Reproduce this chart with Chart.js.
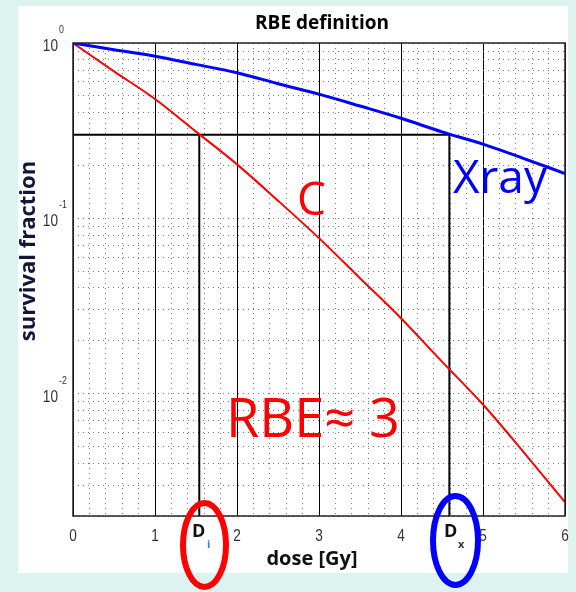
<!DOCTYPE html>
<html>
<head>
<meta charset="utf-8">
<script src="https://cdn.jsdelivr.net/npm/chart.js@4.4.1/dist/chart.umd.min.js"></script>
<style>
  html, body { margin: 0; padding: 0; background: #dcf3ef; overflow: hidden; }
  canvas { display: block; }
</style>
</head>
<body>
<canvas id="rbe" width="576" height="592"></canvas>
<script>
"use strict";

// ---------------- data ----------------
const doses = [0, 0.5, 1, 1.5, 2, 2.5, 3, 3.5, 4, 4.5, 5, 5.5, 6];
const xraySF = [1, 0.916, 0.841, 0.755, 0.676, 0.586, 0.511, 0.437, 0.372, 0.311, 0.265, 0.219, 0.18];
const carbonSF = [1, 0.689, 0.479, 0.312, 0.203, 0.126, 0.077, 0.0455, 0.0269, 0.0152, 0.00865, 0.0046, 0.0024];

const isoSF = 0.3;      // survival level used for the RBE read-off
const doseIon = 1.54;   // D_i
const doseXray = 4.59;  // D_x

const xMin = 0, xMax = 6;
const yMin = 0.002, yMax = 1;

const xTickVals = [0, 1, 2, 3, 4, 5, 6];
const xTickLabels = ["0", "1", "2", "3", "4", "5", "6"];
const xMinorGrid = [0, 0.2, 0.4, 0.6, 0.8, 1, 1.2, 1.4, 1.6, 1.8, 2, 2.2, 2.4, 2.6, 2.8, 3,
  3.2, 3.4, 3.6, 3.8, 4, 4.2, 4.4, 4.6, 4.8, 5, 5.2, 5.4, 5.6, 5.8, 6];
const yDecades = [1, 0.1, 0.01];
const yExponents = ["0", "-1", "-2"];
const yGrid = [0.002, 0.003, 0.004, 0.005, 0.006, 0.007, 0.008, 0.009,
  0.01, 0.02, 0.03, 0.04, 0.05, 0.06, 0.07, 0.08, 0.09,
  0.1, 0.2, 0.3, 0.4, 0.5, 0.6, 0.7, 0.8, 0.9, 1];

const pts = (ys) => doses.map((d, i) => ({ x: d, y: ys[i] }));

// ---------------- decorations ----------------
const narrow = "'Liberation Sans', 'DejaVu Sans', sans-serif";
const sans = "'Open Sans', 'Noto Sans', sans-serif";

// narrow text: squeeze horizontally around the anchor point
function squeezed(c, txt, x, y, align, size) {
  c.save();
  c.translate(x, y);
  c.scale(0.8, 1);
  c.textAlign = align;
  c.font = size + "px " + narrow;
  c.fillText(txt, 0, 0);
  c.restore();
}

const decor = {
  id: "decor",
  beforeDraw(chart) {
    const c = chart.ctx;
    c.save();
    c.fillStyle = "#fff";
    c.fillRect(18, 6, 550, 567);
    c.restore();
  },
  afterDraw(chart) {
    const c = chart.ctx, a = chart.chartArea;
    const xs = chart.scales.x, ys = chart.scales.y;
    c.save();

    // frame
    c.strokeStyle = "#222";
    c.lineWidth = 1.5;
    c.strokeRect(a.left, a.top, a.right - a.left, a.bottom - a.top);

    // x tick labels
    c.fillStyle = "#333";
    c.textBaseline = "alphabetic";
    xTickVals.forEach((v, i) => squeezed(c, xTickLabels[i], xs.getPixelForValue(v), a.bottom + 25, "center", 17));

    // y tick labels 10^k
    yDecades.forEach((v, i) => {
      const y = ys.getPixelForValue(v);
      squeezed(c, "10", 58, y + 8, "right", 17);
      squeezed(c, yExponents[i], 59, y - 10, "left", 11);
    });

    // titles
    c.fillStyle = "#000";
    c.textAlign = "center";
    c.font = "bold 19px " + sans;
    c.fillText("RBE definition", 322, 29);
    c.fillStyle = "#111";
    c.font = "bold 20px " + sans;
    c.fillText("dose [Gy]", 312, 565);
    c.save();
    c.translate(35, 251);
    c.rotate(-Math.PI / 2);
    c.fillStyle = "#10183a";
    c.font = "bold 22px " + sans;
    c.fillText("survival fraction", 0, 0);
    c.restore();

    // curve annotations
    c.textAlign = "left";
    c.font = "46px " + sans;
    c.fillStyle = "#0000ff";
    c.fillText("Xray", 453, 193);
    c.fillStyle = "#ff0000";
    c.fillText("C", 297, 215);
    c.font = "54px " + sans;
    c.fillText("RBE\u2248 3", 226, 437);

    // D_i / D_x
    c.fillStyle = "#111";
    c.font = "bold 18px " + sans;
    c.fillText("D", 192, 537);
    c.fillText("D", 444, 537);
    c.font = "bold 11px " + sans;
    c.fillStyle = "#2f7fd0";
    c.fillText("i", 207, 548);
    c.fillStyle = "#333";
    c.fillText("x", 458, 548);

    // ellipses
    c.lineWidth = 6;
    c.strokeStyle = "#ff0000";
    c.beginPath();
    c.ellipse(204.5, 545, 21.5, 42, 0, 0, Math.PI * 2);
    c.stroke();
    c.strokeStyle = "#0000ff";
    c.beginPath();
    c.ellipse(455.5, 540.5, 22.5, 44.5, 0, 0, Math.PI * 2);
    c.stroke();

    c.restore();
  },
};

// ---------------- chart ----------------
const refLine = (data) => ({
  data, borderColor: "#000", borderWidth: 2, pointRadius: 0, tension: 0,
});

new Chart(document.getElementById("rbe"), {
  type: "line",
  data: {
    datasets: [
      { label: "Xray", data: pts(xraySF), borderColor: "#0000ff", borderWidth: 3,
        pointRadius: 0, cubicInterpolationMode: "monotone" },
      { label: "C", data: pts(carbonSF), borderColor: "#ff0000", borderWidth: 2,
        pointRadius: 0, cubicInterpolationMode: "monotone" },
      refLine([{ x: xMin, y: isoSF }, { x: doseXray, y: isoSF }]),
      refLine([{ x: doseIon, y: yMin }, { x: doseIon, y: isoSF }]),
      refLine([{ x: doseXray, y: yMin }, { x: doseXray, y: isoSF }]),
    ],
  },
  options: {
    responsive: false,
    animation: false,
    layout: { padding: { left: 73, top: 43, right: 11, bottom: 76 } },
    plugins: { legend: { display: false }, tooltip: { enabled: false } },
    scales: {
      x: {
        type: "linear", min: xMin, max: xMax,
        afterBuildTicks: (s) => { s.ticks = xMinorGrid.map((v) => ({ value: v })); },
        ticks: { display: false },
        grid: { color: "#777", lineWidth: 1, drawTicks: false },
        border: { display: false, dash: [1, 4] },
      },
      xMajor: {
        type: "linear", position: "bottom", min: xMin, max: xMax,
        afterBuildTicks: (s) => { s.ticks = xTickVals.map((v) => ({ value: v })); },
        ticks: { display: false },
        grid: { color: "#000", lineWidth: 1, drawTicks: false },
        border: { display: false },
      },
      y: {
        type: "logarithmic", min: yMin, max: yMax,
        afterBuildTicks: (s) => { s.ticks = yGrid.map((v) => ({ value: v })); },
        ticks: { display: false },
        grid: { color: "#777", lineWidth: 1, drawTicks: false },
        border: { display: false, dash: [1, 4] },
      },
    },
  },
  plugins: [decor],
});
</script>
</body>
</html>
